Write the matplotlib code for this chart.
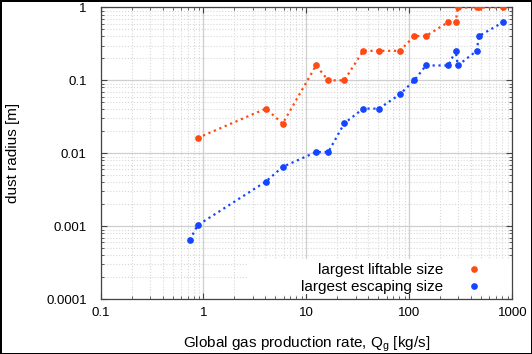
import numpy as np
import matplotlib
matplotlib.use("Agg")
import matplotlib.pyplot as plt
from matplotlib.ticker import LogLocator, FuncFormatter, NullFormatter
from matplotlib.patches import Rectangle

plt.rcParams['font.family'] = ['Liberation Sans', 'DejaVu Sans']
plt.rcParams['mathtext.fontset'] = 'custom'
plt.rcParams['mathtext.rm'] = 'Liberation Sans'

# gas production rate [kg/s]
q_lift = [0.877, 4.04, 5.87, 12.4, 16.3, 23.3, 35.6, 50.7, 81, 111.6, 145,
          239, 282, 295, 451, 475, 818]
r_lift = [0.0162, 0.041, 0.0255, 0.16, 0.1, 0.1, 0.254, 0.254, 0.254, 0.406, 0.406,
          0.63, 0.63, 1.0, 1.0, 1.0, 1.0]

q_esc = [0.738, 0.877, 4.04, 5.87, 12.4, 16.3, 23.3, 35.6, 50.7, 81, 111.6, 145,
         239, 282, 295, 451, 475, 818]
r_esc = [0.00065, 0.00103, 0.0041, 0.0065, 0.0104, 0.0104, 0.0257, 0.041, 0.041,
         0.0645, 0.1, 0.16, 0.16, 0.254, 0.16, 0.254, 0.406, 0.63]

c_lift = '#ff4a14'
c_esc = '#1446ff'

fig = plt.figure(figsize=(5.32, 3.54), dpi=100)
fig.patch.set_edgecolor('black')
fig.patch.set_linewidth(2)
ax = fig.add_axes([0.189, 0.155, 0.774, 0.824])

ax.set_xscale('log')
ax.set_yscale('log')
ax.set_xlim(0.1, 1000)
ax.set_ylim(1e-4, 1)
ax.set_axisbelow(True)

ax.grid(which='major', color='#cfcfcf', linestyle='-', linewidth=0.9)
ax.grid(which='minor', color='#d8d8d8', linestyle=':', linewidth=0.8)

ax.xaxis.set_minor_locator(LogLocator(base=10, subs=np.arange(2, 10)))
ax.yaxis.set_minor_locator(LogLocator(base=10, subs=np.arange(2, 10)))
fmt = FuncFormatter(lambda v, p: '%g' % v)
ax.xaxis.set_major_formatter(fmt)
ax.yaxis.set_major_formatter(fmt)
ax.xaxis.set_minor_formatter(NullFormatter())
ax.yaxis.set_minor_formatter(NullFormatter())

ax.tick_params(which='both', direction='in', top=True, right=True, colors='#444444',
               labelcolor='black', labelsize=9.5)
ax.tick_params(which='major', length=4, width=0.8)
ax.tick_params(which='minor', length=2.2, width=0.6)
ax.tick_params(axis='x', pad=5.5)
ax.tick_params(axis='y', pad=10)
for s in ax.spines.values():
    s.set_color('#444444')
    s.set_linewidth(0.9)

ax.plot(q_lift, r_lift, linestyle=':', color=c_lift, linewidth=1.6,
        marker='o', markersize=3.8, label='largest liftable size', zorder=3)
ax.plot(q_esc, r_esc, linestyle=':', color=c_esc, linewidth=1.6,
        marker='o', markersize=3.8, label='largest escaping size', zorder=3)

# white key box
ax.add_patch(Rectangle((0.358, 0.016), 0.642, 0.121, transform=ax.transAxes,
                       facecolor='white', edgecolor='none', zorder=0.8))

h1, = ax.plot([], [], linestyle='none', marker='o', markersize=3.8, color=c_lift)
h2, = ax.plot([], [], linestyle='none', marker='o', markersize=3.8, color=c_esc)
leg = ax.legend([h1, h2], ['largest liftable size', 'largest escaping size'],
                loc='lower right', bbox_to_anchor=(0.944, 0.016), frameon=False,
                markerfirst=False, fontsize=11, borderpad=0, borderaxespad=0,
                handlelength=2, handletextpad=1.0, labelspacing=0.23)

ax.set_xlabel('Global gas production rate, Q$_\\mathregular{g}$ [kg/s]', fontsize=11)
ax.xaxis.set_label_coords(0.5, -0.12)
ax.set_ylabel('dust radius [m]', fontsize=11)
ax.yaxis.set_label_coords(-0.195, 0.5)

fig.savefig('out.png', dpi=100, edgecolor=fig.get_edgecolor())
